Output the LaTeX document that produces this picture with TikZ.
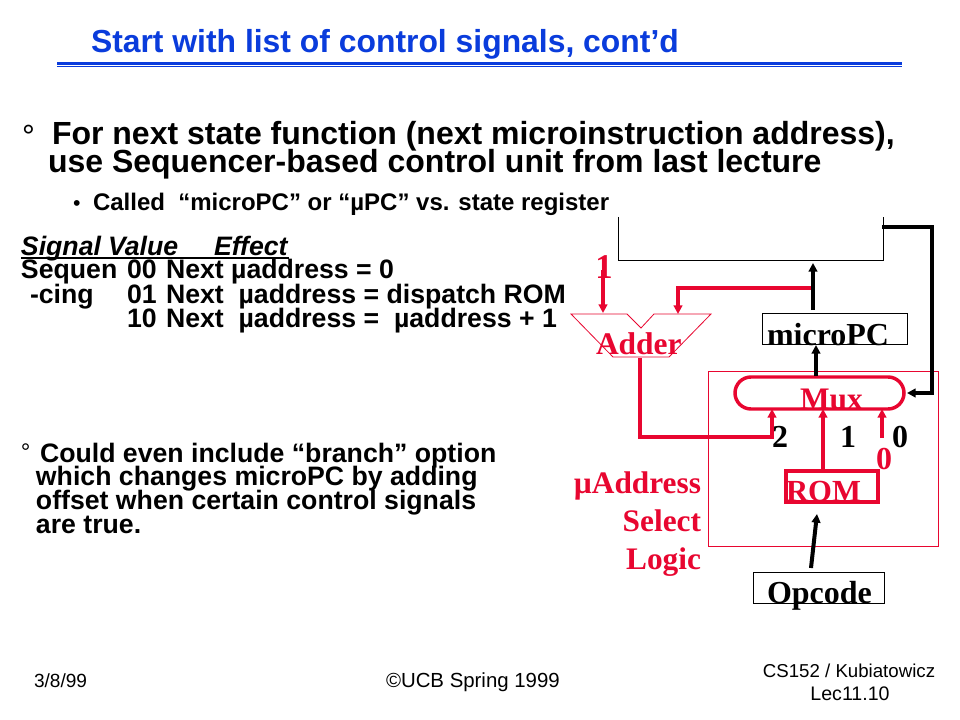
\documentclass[tikz,border=0pt]{standalone}
\usepackage{fontspec}
\setmainfont{Liberation Sans}
\newfontfamily\serifb{Liberation Serif}[BoldFont={Liberation Serif Bold}]
\usetikzlibrary{arrows.meta,calc}
\definecolor{slred}{RGB}{232,6,48}
\definecolor{slblue}{RGB}{10,60,220}
\tikzset{
 x=0.75pt,y=-0.75pt,
 txt/.style={anchor=base west,inner sep=0pt,outer sep=0pt,font=\bfseries\fontsize{#1}{#1}\selectfont},
 reg/.style={anchor=base west,inner sep=0pt,outer sep=0pt,font=\fontsize{#1}{#1}\selectfont},
 ital/.style={anchor=base west,inner sep=0pt,outer sep=0pt,font=\bfseries\itshape\fontsize{20}{20}\selectfont},
 dia/.style={inner sep=0pt,outer sep=0pt,font=\serifb\bfseries\fontsize{#1}{#1}\selectfont},
 blk/.style={draw=black,line width=0.75pt},
 thinred/.style={draw=slred,line width=0.6pt},
 redbox/.style={draw=slred,line width=2.6pt},
 redw/.style={draw=slred,line width=2.6pt},
 blkw/.style={draw=black,line width=3pt},
 tipr/.style={-{Triangle[length=6.5pt,width=6.5pt]}},
}
\begin{document}
\begin{tikzpicture}
\useasboundingbox (0,0) rectangle (960,720);
\fill[white] (0,0) rectangle (960,720);
% title
\node[txt=23.9,text=slblue] (title) at (91,53) {Start with list of control signals, cont’d};
\coordinate (ruleL) at (57,63.5); \coordinate (ruleR) at (902,63.5);
\draw[slblue,line width=2.4pt] (ruleL) -- (ruleR);
\draw[slblue,line width=0.8pt] ($(ruleL)+(0,3)$) -- ($(ruleR)+(0,3)$);
% bullets
\node[reg=24] (b1) at (22,148) {°};
\node[txt=24] (l1) at (52,145) {For next state function (next microinstruction address),};
\node[txt=24] (l2) at (48,173) {use Sequencer-based control unit from last lecture};
\node[reg=16] (b2) at (73,211) {•};
\node[txt=18] (l3) at (93,211) {Called\ \ “microPC” or “µPC” vs. state register};
% table
\node[ital] (h1) at (21,256) {Signal};
\node[ital] (h2) at (108,256) {Value};
\node[ital] (h3) at (214,256) {Effect};
\coordinate (ulL) at (21,258); \coordinate (ulR) at (289,258);
\draw[black,line width=1.5pt] (ulL) -- (ulR);
\node[txt=20] (s1) at (21,279) {Sequen};
\node[txt=20] (s2) at (30,304) {-cing};
\node[txt=20] (v1) at (127,279) {00};
\node[txt=20] (v2) at (127,304) {01};
\node[txt=20] (v3) at (127,327) {10};
\node[txt=20] (e1) at (166,279) {Next µaddress = 0};
\node[txt=20] (e2) at (166,304) {Next\ \ µaddress = dispatch ROM};
\node[txt=20] (e3) at (166,327) {Next\ \ µaddress =\ \ µaddress + 1};
% lower text
\node[reg=18] (b3) at (21,460) {°};
\node[txt=20] (c1) at (40,462) {Could even include “branch” option};
\node[txt=20] (c2) at (36,485) {which changes microPC by adding};
\node[txt=20] (c3) at (36,509) {offset when certain control signals};
\node[txt=20] (c4) at (36,533) {are true.};
% footer
\node[reg=14.3] (f1) at (34,687) {3/8/99};
\node[reg=15.3] (f2) at (386,687) {©UCB Spring 1999};
\node[reg=14,anchor=base] (f3) at (849,677) {CS152 / Kubiatowicz};
\node[reg=14.7,anchor=base] (f4) at (850,700) {Lec11.10};
% diagram boxes
\coordinate (tl) at (618.5,217); \coordinate (bl) at (618.5,261);
\coordinate (br) at (883,261); \coordinate (tr) at (883,217);
\draw[blk] (tl) -- (bl) -- (br) -- (tr);
\node[blk,draw,minimum width=145*0.75pt,minimum height=31*0.75pt,inner sep=0pt,outer sep=0pt] (upc) at (834.5,328.5) {};
\node[dia=24,anchor=base west] (upct) at (767,345) {microPC};
\draw[thinred] (708,371) rectangle (938,546);
\node[redbox,draw,rounded corners=12pt,minimum width=169*0.75pt,minimum height=32*0.75pt,inner sep=0pt,outer sep=0pt] (mux) at (819.5,393) {};
\node[dia=23.5,text=slred,anchor=base west] (muxt) at (800,409) {Mux};
\node[redbox,draw,minimum width=92*0.75pt,minimum height=31*0.75pt,inner sep=0pt,outer sep=0pt] (rom) at (832,486.5) {};
\node[dia=23,text=slred,anchor=base west] (romt) at (786,501) {ROM};
\node[blk,draw,minimum width=131*0.75pt,minimum height=31*0.75pt,inner sep=0pt,outer sep=0pt] (op) at (818.5,587.5) {};
\node[dia=24,anchor=base west] (opt) at (767,603) {Opcode};
% adder
\draw[thinred] (571,314) -- (627,314) -- (641,328) -- (654,314) -- (711,314) -- (669,357) -- (613,357) -- cycle;
\coordinate (adIn1) at (603,313); \coordinate (adIn2) at (678,314); \coordinate (adOut) at (640,358);
\node[dia=23.6,text=slred,anchor=base west] (addt) at (596,354) {Adder};
\node[dia=26,text=slred,anchor=base] (one) at (604,279) {1};
\coordinate (oneb) at (603,270);
\draw[redw,tipr] (oneb) -- (adIn1);
% wires
\coordinate (upcTop) at (813,310); \coordinate (regB) at (813,263);
\coordinate (tap) at (812,288);
\draw[redw,tipr] (tap) -| (adIn2);
\draw[blkw,tipr] (upcTop) -- (regB);
\coordinate (muxOut) at (816,376); \coordinate (upcB) at (816,345);
\draw[blkw,tipr] (muxOut) -- (upcB);
\coordinate (regR) at (882,227); \coordinate (turn) at (932,227); \coordinate (muxR) at (907,393);
\draw[blkw,tipr] (regR) -- (turn) |- (muxR);
\coordinate (m2) at (772,409); \coordinate (m1) at (823,409); \coordinate (m0) at (882,409);
\draw[redw,tipr] (adOut) |- (772,437) -- (m2);
\draw[redw,tipr] (rom.north -| m1) -- (m1);
\coordinate (zero) at (882,438);
\draw[redw,tipr] (zero) -- (m0);
\coordinate (opA) at (811,568); \coordinate (romA) at (817,514);
\draw[blkw,tipr] (opA) -- (romA);
% numerals
\node[dia=24,anchor=base] (n2) at (780,447) {2};
\node[dia=24,anchor=base] (n1) at (848,447) {1};
\node[dia=24,anchor=base] (n0) at (900,447) {0};
\node[dia=24,anchor=base,text=slred] (r0) at (884,469) {0};
\node[dia=23.5,anchor=base east,text=slred] (la) at (701,493) {µAddress};
\node[dia=23.5,anchor=base east,text=slred] (ls) at (701,531) {Select};
\node[dia=23.5,anchor=base east,text=slred] (ll) at (701,569) {Logic};
\end{tikzpicture}
\end{document}
